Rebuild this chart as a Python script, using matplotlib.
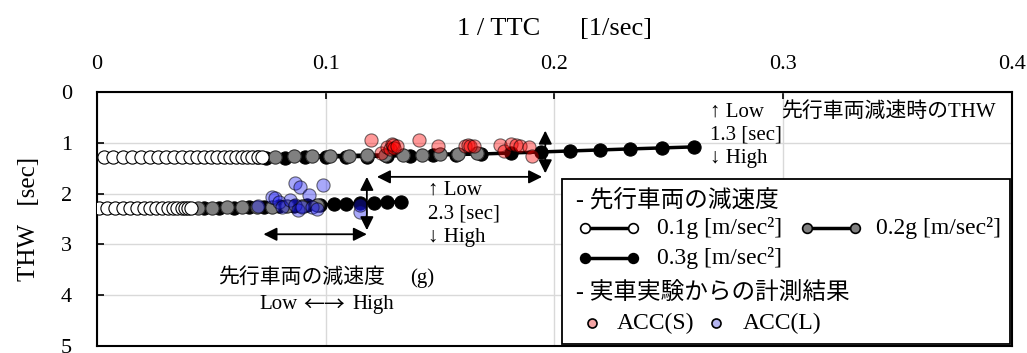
import matplotlib
matplotlib.use('Agg')
import matplotlib.pyplot as plt
from matplotlib.lines import Line2D
from matplotlib.patches import Rectangle

plt.rcParams['font.family'] = ['Liberation Serif', 'Noto Sans CJK JP']
plt.rcParams['font.size'] = 15

# 1/TTC [1/sec] vs THW [sec], upper group (THW 1.3 s)
x_01_a = [0.003, 0.0072, 0.0113, 0.0153, 0.0192, 0.0230, 0.0267, 0.0303, 0.0338, 0.0372,
          0.0405, 0.0437, 0.0468, 0.0498, 0.0527, 0.0555, 0.0582, 0.0608, 0.0633, 0.0657,
          0.0680, 0.0702, 0.0723]
y_01_a = [1.28] * 20 + [1.27, 1.27, 1.27]
x_02_a = [0.070, 0.078, 0.086, 0.094, 0.102, 0.110, 0.118, 0.126, 0.134, 0.142, 0.150, 0.158, 0.166]
y_02_a = [1.27, 1.27, 1.26, 1.26, 1.25, 1.25, 1.24, 1.24, 1.23, 1.23, 1.22, 1.22, 1.21]
x_03_a = [0.074, 0.082, 0.091, 0.100, 0.109, 0.118, 0.127, 0.137, 0.147, 0.157, 0.168, 0.181,
          0.194, 0.207, 0.220, 0.233, 0.247, 0.261]
y_03_a = [1.29, 1.29, 1.28, 1.28, 1.27, 1.27, 1.26, 1.25, 1.24, 1.23, 1.22, 1.20,
          1.18, 1.16, 1.14, 1.12, 1.10, 1.08]

# lower group (THW 2.3 s)
x_01_b = [0.001, 0.0045, 0.0079, 0.0112, 0.0144, 0.0175, 0.0205, 0.0233, 0.0260, 0.0286,
          0.0310, 0.0332, 0.0352, 0.0370, 0.0386, 0.0400, 0.0412]
y_01_b = [2.29] * 17
x_02_b = [0.044, 0.0505, 0.057, 0.0635, 0.070, 0.0765, 0.083, 0.0895, 0.096]
y_02_b = [2.28, 2.28, 2.27, 2.27, 2.26, 2.26, 2.25, 2.24, 2.23]
x_03_b = [0.047, 0.0535, 0.060, 0.0665, 0.073, 0.0795, 0.086, 0.092, 0.0976, 0.1035,
          0.109, 0.115, 0.121, 0.127, 0.133]
y_03_b = [2.29, 2.28, 2.28, 2.27, 2.26, 2.25, 2.24, 2.23, 2.22, 2.21,
          2.20, 2.19, 2.18, 2.17, 2.16]

# measured results
acc_s_x = [0.120, 0.124, 0.127, 0.128, 0.129, 0.1295, 0.130, 0.131, 0.141, 0.149, 0.161,
           0.162, 0.163, 0.165, 0.176, 0.178, 0.181, 0.183, 0.185, 0.189, 0.190]
acc_s_y = [0.95, 1.21, 1.08, 1.12, 1.03, 1.05, 1.10, 1.06, 0.95, 1.07, 1.06,
           1.05, 1.07, 1.07, 1.05, 1.16, 1.02, 1.04, 1.07, 1.09, 1.26]
acc_l_x = [0.0706, 0.0765, 0.078, 0.0794, 0.0808, 0.0845, 0.0866, 0.0866, 0.088, 0.0888,
           0.0896, 0.0925, 0.094, 0.096, 0.099, 0.115, 0.115]
acc_l_y = [2.24, 2.06, 2.09, 2.16, 2.26, 2.13, 1.80, 2.22, 2.32, 1.86,
           2.27, 2.03, 2.26, 2.31, 1.83, 2.36, 2.22]

x_ticks = [0, 0.1, 0.2, 0.3, 0.4]
x_tick_labels = ['0', '0.1', '0.2', '0.3', '0.4']
y_ticks = [0, 1, 2, 3, 4, 5]

fig = plt.figure(figsize=(10.27, 3.53), dpi=100)
ax = fig.add_axes([0.0944, 0.0198, 0.8909, 0.7195])

ms = 9.5
for xs, ys in [(x_03_a, y_03_a), (x_03_b, y_03_b)]:
    ax.plot(xs, ys, '-o', color='black', lw=2.5, ms=ms, mfc='black', mec='black', mew=0.8, zorder=3)
for xs, ys in [(x_02_a, y_02_a), (x_02_b, y_02_b)]:
    ax.plot(xs, ys, '-o', color='black', lw=2.5, ms=ms, mfc='#808080', mec='#303030', mew=0.8, zorder=4)
for xs, ys in [(x_01_a, y_01_a), (x_01_b, y_01_b)]:
    ax.plot(xs, ys, '-o', color='black', lw=2.5, ms=ms, mfc='white', mec='black', mew=0.8, zorder=5)

ax.scatter(acc_s_x, acc_s_y, s=ms ** 2, color=(1, 0, 0, 0.4), edgecolors=(0, 0, 0, 0.55),
           linewidths=0.8, zorder=6)
ax.scatter(acc_l_x, acc_l_y, s=ms ** 2, color=(0.1, 0.1, 0.95, 0.38), edgecolors=(0, 0, 0, 0.55),
           linewidths=0.8, zorder=6)

# double arrows
arrow = dict(arrowstyle='<|-|>', color='black', lw=1.3, mutation_scale=20, shrinkA=0, shrinkB=0)
ax.annotate('', xy=(0.196, 0.76), xytext=(0.196, 1.60), arrowprops=arrow, zorder=9)
ax.annotate('', xy=(0.1224, 1.67), xytext=(0.1946, 1.67), arrowprops=arrow, zorder=9)
ax.annotate('', xy=(0.118, 1.67), xytext=(0.118, 2.72), arrowprops=arrow, zorder=9)
ax.annotate('', xy=(0.0728, 2.80), xytext=(0.118, 2.80), arrowprops=arrow, zorder=9)

ax.text(0.268, 0.39, '↑ Low', va='center', zorder=9)
ax.text(0.268, 0.85, '1.3 [sec]', va='center', zorder=9)
ax.text(0.268, 1.30, '↓ High', va='center', zorder=9)
ax.text(0.299, 0.39, '先行車両減速時のTHW', va='center', zorder=9)
ax.text(0.1449, 1.93, '↑ Low', va='center', zorder=9)
ax.text(0.1449, 2.40, '2.3 [sec]', va='center', zorder=9)
ax.text(0.1449, 2.87, '↓ High', va='center', zorder=9)
ax.text(0.053, 3.66, '先行車両の減速度', va='center', zorder=9)
ax.text(0.137, 3.66, '(g)', va='center', zorder=9)
ax.text(0.0879, 4.19, 'Low', va='center', ha='right', zorder=9)
ax.text(0.0992, 4.19, '←→', va='center', ha='center', family='Noto Sans CJK JP', zorder=9)
ax.text(0.1115, 4.19, 'High', va='center', ha='left', zorder=9)

# legend box
ax.add_patch(Rectangle((0.508, 0.006), 0.490, 0.650, transform=ax.transAxes,
                       facecolor='white', edgecolor='black', lw=1.3, zorder=10))
tr = ax.transAxes
lfs = 17
ax.text(0.524, 0.575, '- 先行車両の減速度', transform=tr, va='center', fontsize=lfs, zorder=11)
legend_rows = [
    (0.533, 0.586, 0.465, 'white', 0.612, '0.1g [m/sec²]'),
    (0.776, 0.828, 0.465, '#808080', 0.852, '0.2g [m/sec²]'),
    (0.533, 0.586, 0.345, 'black', 0.612, '0.3g [m/sec²]'),
]
for x0, x1, yy, fc, tx, label in legend_rows:
    ax.add_line(Line2D([x0, x1], [yy, yy], transform=tr, color='black', lw=2.5, marker='o',
                       ms=7, mfc=fc, mec='black', mew=1.2, zorder=11))
    ax.text(tx, yy, label, transform=tr, va='center', fontsize=lfs, zorder=11)
ax.text(0.524, 0.207, '- 実車実験からの計測結果', transform=tr, va='center', fontsize=lfs, zorder=11)
ax.add_line(Line2D([0.541], [0.089], transform=tr, marker='o', ms=6.5, mfc='#F4A4A4',
                   mec='black', mew=1.2, ls='none', zorder=11))
ax.text(0.568, 0.089, 'ACC(S)', transform=tr, va='center', fontsize=lfs, zorder=11)
ax.add_line(Line2D([0.677], [0.089], transform=tr, marker='o', ms=6.5, mfc='#B4B4F0',
                   mec='black', mew=1.2, ls='none', zorder=11))
ax.text(0.706, 0.089, 'ACC(L)', transform=tr, va='center', fontsize=lfs, zorder=11)

# axes
ax.set_xlim(0, 0.4)
ax.set_ylim(5, 0)
ax.set_xticks(x_ticks)
ax.set_xticklabels(x_tick_labels)
ax.set_yticks(y_ticks)
ax.xaxis.tick_top()
ax.tick_params(axis='x', direction='in', length=5, width=1.2, pad=13, labelsize=16)
ax.tick_params(axis='y', direction='in', length=5, width=1.2, pad=18, labelsize=16)
ax.grid(color='#D9D9D9', lw=1.0)
ax.set_axisbelow(True)
for s in ax.spines.values():
    s.set_linewidth(1.5)

ax.xaxis.set_label_position('top')
ax.set_xlabel('1 / TTC      [1/sec]', va='center', fontsize=19)
ax.xaxis.set_label_coords(0.5, 1.248)
ax.set_ylabel('THW   [sec]', fontsize=18)
ax.yaxis.set_label_coords(-0.062, 0.5)

fig.savefig('out.png', dpi=100)
